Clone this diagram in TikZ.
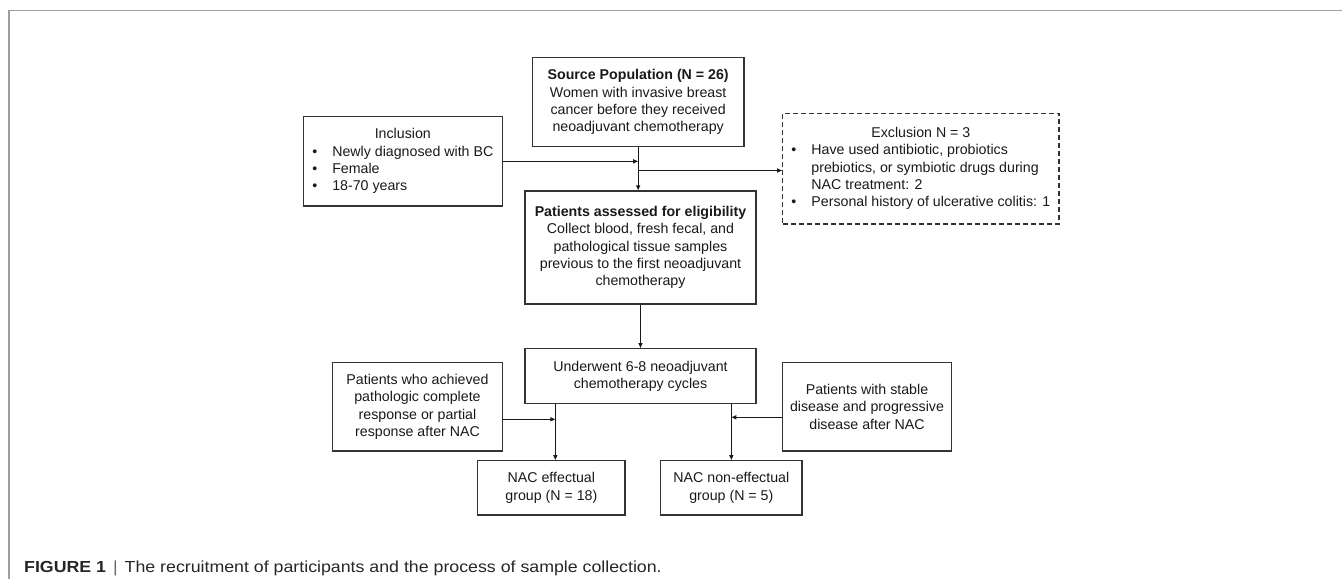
\documentclass[tikz,border=0pt]{standalone}
\usepackage{fontspec}
\setmainfont{Liberation Sans}
\newfontfamily\capfont[FakeStretch=1.11]{Liberation Sans}
\usetikzlibrary{arrows.meta}
\begin{document}
\begin{tikzpicture}[x=1pt,y=-1pt,
  every node/.style={font=\fontsize{14.2}{17.3}\selectfont, text=black!90},
  box/.style={draw=black!80, line width=1.4pt, inner sep=0pt, align=center},
  dbox/.style={box, line width=1.3pt, dash pattern=on 5pt off 3pt},
  arr/.style={draw=black!90, line width=1.3pt, -{Triangle[length=5pt,width=4pt]}},
  framel/.style={draw=black!38, line width=1.3pt},
  captext/.style={font=\capfont\fontsize{16}{19}\selectfont, text=black!85, anchor=base west, inner sep=0pt}
]
\useasboundingbox (0,0) rectangle (1342,579);
\draw[framel] (9,579) -- (9,10.7) -- (1342,10.7);

\node[box, minimum width=211.7pt, minimum height=89.4pt] (src) at (638.15,102)
  {\textbf{Source Population (N = 26)}\\Women with invasive breast\\cancer before they received\\neoadjuvant chemotherapy};

\node[box, minimum width=199pt, minimum height=89.3pt] (incl) at (402.8,161.35)
  {\begin{tabular}{@{}p{20pt}@{}l@{}}
   \multicolumn{2}{@{}c@{}}{Inclusion}\\
   • & Newly diagnosed with BC\\
   • & Female\\
   • & 18-70 years
   \end{tabular}};

\node[dbox, minimum width=276.3pt, minimum height=110.7pt] (excl) at (920.85,168.65)
  {\begin{tabular}{@{}p{20pt}@{}l@{}}
   \multicolumn{2}{@{}c@{}}{Exclusion N = 3}\\
   • & Have used antibiotic, probiotics\\
     & prebiotics, or symbiotic drugs during\\
     & NAC treatment: 2\\
   • & Personal history of ulcerative colitis: 1
   \end{tabular}};

\node[box, minimum width=231pt, minimum height=113pt] (pat) at (640.5,247.5)
  {\textbf{Patients assessed for eligibility}\\Collect blood, fresh fecal, and\\pathological tissue samples\\previous to the first neoadjuvant\\chemotherapy};

\node[box, minimum width=231pt, minimum height=54.6pt] (und) at (640.5,376)
  {Underwent 6-8 neoadjuvant\\chemotherapy cycles};

\node[box, minimum width=169.6pt, minimum height=88.3pt] (left) at (417.5,406.85)
  {Patients who achieved\\pathologic complete\\response or partial\\response after NAC};

\node[box, minimum width=169.4pt, minimum height=88.3pt] (right) at (867,406.85)
  {Patients with stable\\disease and progressive\\disease after NAC};

\node[box, minimum width=147.3pt, minimum height=54.3pt] (eff) at (551.35,487.85)
  {NAC effectual\\group (N = 18)};

\node[box, minimum width=141.3pt, minimum height=54.3pt] (noneff) at (731.35,487.85)
  {NAC non-effectual\\group (N = 5)};

\node[captext] (capt) at (24,572.7)
  {\textbf{FIGURE 1}\hspace{7pt}{\color{black!60}|}\hspace{7pt}The recruitment of participants and the process of sample collection.};

% connectors
\draw[arr] (src.south) -- (src.south |- pat.north);
\draw[arr] (incl.east) -- (incl.east -| src.south);
\coordinate (ex) at (638.15,170.5);
\draw[arr] (ex) -- (ex -| excl.west);
\draw[arr] (pat.south) -- (und.north);
\coordinate (ld) at ([xshift=4pt]eff.north);
\draw[arr] (ld |- und.south) -- (ld);
\draw[arr] ([yshift=-12.45pt]left.east) -- ([yshift=-12.45pt]left.east -| ld);
\draw[arr] (noneff.north |- und.south) -- (noneff.north);
\draw[arr] ([yshift=-10.45pt]right.west) -- ([yshift=-10.45pt]right.west -| noneff.north);
\end{tikzpicture}
\end{document}
